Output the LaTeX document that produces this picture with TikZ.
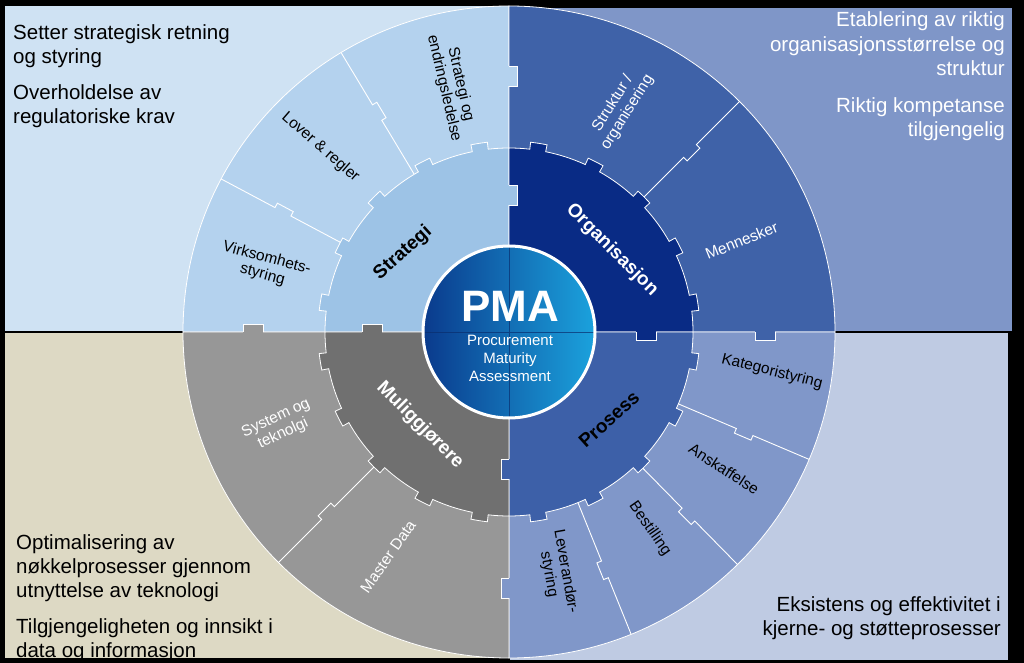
\documentclass[tikz,border=0pt]{standalone}
\usepackage{fontspec}
\setmainfont{Liberation Sans}
\definecolor{tlbg}{HTML}{CFE2F3}
\definecolor{tlout}{HTML}{B4D2EE}
\definecolor{tlin}{HTML}{9DC3E6}
\definecolor{trbg}{HTML}{7F96C8}
\definecolor{trout}{HTML}{3F62A8}
\definecolor{trin}{HTML}{092B85}
\definecolor{blbg}{HTML}{DDD9C4}
\definecolor{blout}{HTML}{979797}
\definecolor{blin}{HTML}{707070}
\definecolor{brbg}{HTML}{BFCBE3}
\definecolor{brout}{HTML}{8097C9}
\definecolor{brin}{HTML}{3D60A8}
\definecolor{pmaL}{HTML}{0A3A8C}
\definecolor{pmaM}{HTML}{1458AE}
\definecolor{pmaR}{HTML}{1BA2DD}
\definecolor{pmaline}{HTML}{0A2E6E}
\tikzset{
  ptxt/.style={font=\fontsize{20.5}{24}\selectfont, inner sep=0pt},
  seglbl/.style={font=\fontsize{15.5}{17}\selectfont, align=center, inner sep=0pt},
  ringlbl/.style={font=\fontsize{19}{22}\selectfont\bfseries, inner sep=0pt},
  divider/.style={draw=white, line width=0.9pt, line join=miter},
  edge/.style={draw=white, line width=0.8pt},
}
\begin{document}
\begin{tikzpicture}[x=1pt,y=1pt]
\useasboundingbox (-509,-331) rectangle (515,332);
\fill[black] (-509,-331) rectangle (515,332);
% panels
\fill[tlbg] (-504,1.2) rectangle (-0.5,326);
\fill[trbg] (0.5,1.2) rectangle (503,324);
\fill[blbg] (-504,-1.2) rectangle (-0.5,-326);
\fill[brbg] (0.5,-1.2) rectangle (499,-328);
% outer ring sectors
\foreach \a/\co in {90/tlout, 0/trout, -90/brout, 180/blout} {
  \path[fill=\co, edge] (0,0) -- (\a:326) arc[start angle=\a, end angle=\a+90, radius=326] -- cycle;
}
% dividers with tabs
\foreach \t in {121,152,45,-23,-45.5,-68,225} {
  \draw[divider, rotate=\t] (184,0) -- (247,0) -- (247,-5) -- (265,-5) -- (265,0) -- (326,0);
}
% gear rings
\foreach \a/\ci in {90/tlin, 0/trin, -90/brin, 180/blin} {
  \path[fill=\ci, edge] (0,0) -- (\a:184)
    \foreach \k in {0,...,4} {
      arc[start angle={\a+18*\k}, end angle={\a+18*\k+6.5}, radius=184]
      -- ({\a+18*\k+6.5}:191)
      arc[start angle={\a+18*\k+6.5}, end angle={\a+18*\k+11.5}, radius=191]
      -- ({\a+18*\k+11.5}:184)
      arc[start angle={\a+18*\k+11.5}, end angle={\a+18*\k+18}, radius=184]
    } -- cycle;
}
% teeth across quadrant boundaries
\foreach \a/\co/\ci in {90/tlout/tlin, 0/trout/trin, -90/brout/brin, 180/blout/blin} {
  \begin{scope}[rotate=\a]
    \fill[\co] (246,1.3) rectangle (266,-8);
    \draw[edge] (246,0) -- (246,-8) -- (266,-8) -- (266,0);
    \fill[\ci] (127,1.3) rectangle (147,-8);
    \draw[edge] (127,0) -- (127,-8) -- (147,-8) -- (147,0);
  \end{scope}
}
% centre circle
\shade[left color=pmaL, middle color=pmaM, right color=pmaR] (0,0) circle[radius=86];
\draw[pmaline, line width=0.7pt, opacity=0.7] (-86,0) -- (86,0) (0,-86) -- (0,86);
\draw[white, line width=3pt] (0,0) circle[radius=86];
\node[font=\fontsize{44}{44}\selectfont\bfseries, text=white, anchor=base, inner sep=0pt] (pma) at (1,10) {PMA};
\node[font=\fontsize{15}{18}\selectfont, text=white, anchor=base, inner sep=0pt] (pma1) at (1,-14) {Procurement};
\node[font=\fontsize{15}{18}\selectfont, text=white, anchor=base, inner sep=0pt] (pma2) at (1,-32) {Maturity};
\node[font=\fontsize{15}{18}\selectfont, text=white, anchor=base, inner sep=0pt] (pma3) at (1,-50) {Assessment};
% ring labels
\node[ringlbl, rotate=42] (strat) at (-106,79) {Strategi};
\node[ringlbl, rotate=-45, text=white] (org) at (103,82) {Organisasjon};
\node[ringlbl, rotate=42] (pros) at (100,-87) {Prosess};
\node[ringlbl, rotate=-45, text=white] (mul) at (-89,-93) {Muliggjørere};
% segment labels
\node[seglbl, rotate=-15] (s1) at (165:253) {Virksomhets-\\styring};
\node[seglbl, rotate=-41] (s2) at (135.6:264) {Lover \& regler};
\node[seglbl, rotate=-77] (s3) at (103:252) {Strategi og\\endringsledelse};
\node[seglbl, rotate=58, text=white] (s4) at (63.6:250) {Struktur /\\organisering};
\node[seglbl, rotate=22, text=white] (s5) at (21.5:250) {Mennesker};
\node[seglbl, rotate=-14] (s6) at (-8.6:266) {Kategoristyring};
\node[seglbl, rotate=-33] (s7) at (-32.5:255) {Anskaffelse};
\node[seglbl, rotate=-55] (s8) at (-54.4:242) {Bestilling};
\node[seglbl, rotate=-80] (s9) at (-78.7:246) {Leverandør-\\styring};
\node[seglbl, rotate=25, text=white] (s10) at (202.3:248) {System og\\teknolgi};
\node[seglbl, rotate=55, text=white] (s11) at (241.7:255) {Master Data};
% panel texts
\node[ptxt, anchor=base west] (tl1) at (-496,292) {Setter strategisk retning};
\node[ptxt, anchor=base west] (tl2) at (-496,268) {og styring};
\node[ptxt, anchor=base west] (tl3) at (-496,232) {Overholdelse av};
\node[ptxt, anchor=base west] (tl4) at (-496,208) {regulatoriske krav};
\node[ptxt, anchor=base east, text=white] (tr1) at (496,305) {Etablering av riktig};
\node[ptxt, anchor=base east, text=white] (tr2) at (496,280) {organisasjonsstørrelse og};
\node[ptxt, anchor=base east, text=white] (tr3) at (496,256) {struktur};
\node[ptxt, anchor=base east, text=white] (tr4) at (496,219) {Riktig kompetanse};
\node[ptxt, anchor=base east, text=white] (tr5) at (496,195) {tilgjengelig};
\begin{scope}
\clip (-504,-1.2) rectangle (-0.5,-326);
\node[ptxt, anchor=base west] (bl1) at (-493,-217) {Optimalisering av};
\node[ptxt, anchor=base west] (bl2) at (-493,-241) {nøkkelprosesser gjennom};
\node[ptxt, anchor=base west] (bl3) at (-493,-265) {utnyttelse av teknologi};
\node[ptxt, anchor=base west] (bl4) at (-493,-301) {Tilgjengeligheten og innsikt i};
\node[ptxt, anchor=base west] (bl5) at (-493,-325) {data og informasjon};
\end{scope}
\node[ptxt, anchor=base east] (br1) at (492,-279) {Eksistens og effektivitet i};
\node[ptxt, anchor=base east] (br2) at (492,-303) {kjerne- og støtteprosesser};
\end{tikzpicture}
\end{document}
